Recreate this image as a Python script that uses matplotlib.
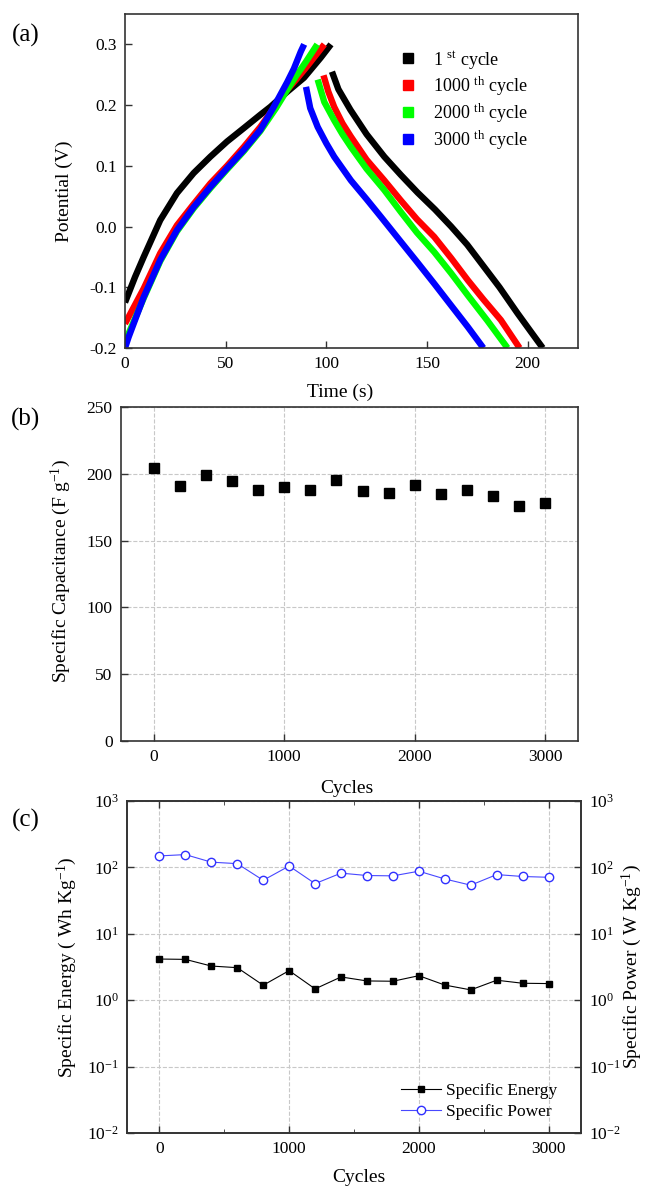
import numpy as np
import matplotlib
matplotlib.use('Agg')
import matplotlib.pyplot as plt
from matplotlib.lines import Line2D
from matplotlib.ticker import MultipleLocator, LogLocator, NullLocator, FixedLocator

plt.rcParams['font.family'] = ['Liberation Serif', 'DejaVu Serif']
plt.rcParams['mathtext.fontset'] = 'custom'
plt.rcParams['mathtext.rm'] = 'Liberation Serif'
plt.rcParams['mathtext.it'] = 'Liberation Serif:italic'
plt.rcParams['mathtext.bf'] = 'Liberation Serif:bold'
plt.rcParams['axes.unicode_minus'] = False

# ---- (a) galvanostatic charge / discharge curves ----
cycle_labels = [r'1 $^{\mathrm{st}}$ cycle', r'1000 $^{\mathrm{th}}$ cycle',
                r'2000 $^{\mathrm{th}}$ cycle', r'3000 $^{\mathrm{th}}$ cycle']
cycle_colors = ['#000000', '#ff0000', '#00ff00', '#0000ff']

t_chg_1 = [0, 5, 9.3, 17.5, 25.8, 34.1, 42.4, 50.7, 59, 67.2, 72.2, 80.6, 88.9, 97.2, 102.3]
v_chg_1 = [-0.125, -0.083, -0.05, 0.0105, 0.055, 0.088, 0.115, 0.14, 0.162, 0.184, 0.197, 0.222, 0.245, 0.278, 0.30]
t_dis_1 = [102.8, 106, 112, 120, 128.8, 137, 145.3, 154, 162, 170, 178, 186, 195, 202, 207.5]
v_dis_1 = [0.255, 0.226, 0.192, 0.152, 0.115, 0.085, 0.056, 0.028, 0.0, -0.030, -0.065, -0.100, -0.143, -0.175, -0.200]

t_chg_1000 = [0, 9.3, 17.5, 25.8, 34.1, 42.4, 50.7, 59, 67.2, 75, 80, 85, 90, 95, 99]
v_chg_1000 = [-0.16, -0.102, -0.044, 0.002, 0.037, 0.071, 0.10, 0.131, 0.164, 0.20, 0.223, 0.242, 0.262, 0.283, 0.30]
t_dis_1000 = [98.6, 101, 103.9, 108, 112.2, 120, 128.8, 137, 145, 153.6, 162, 170.2, 178, 186.7, 196]
v_dis_1000 = [0.249, 0.222, 0.197, 0.170, 0.148, 0.110, 0.076, 0.043, 0.012, -0.017, -0.052, -0.088, -0.120, -0.154, -0.200]

t_chg_2000 = [0, 9.3, 17.5, 25.8, 34.1, 42.4, 50.7, 59, 67.2, 75, 80, 85, 90, 95.5]
v_chg_2000 = [-0.19, -0.118, -0.057, -0.008, 0.03, 0.063, 0.094, 0.124, 0.157, 0.195, 0.222, 0.248, 0.272, 0.30]
t_dis_2000 = [95.7, 99, 103.9, 108, 112.2, 120, 128.8, 137, 145, 153.6, 162, 170.2, 180, 190]
v_dis_2000 = [0.242, 0.205, 0.175, 0.152, 0.131, 0.095, 0.060, 0.024, -0.010, -0.042, -0.077, -0.113, -0.155, -0.200]

t_chg_3000 = [0, 1.8, 9.3, 17.5, 25.8, 34.1, 42.4, 50.7, 59, 67.2, 73.9, 80.6, 83.9, 87.3, 89]
v_chg_3000 = [-0.2, -0.182, -0.116, -0.055, -0.006, 0.032, 0.065, 0.096, 0.126, 0.159, 0.197, 0.238, 0.26, 0.288, 0.30]
t_dis_3000 = [89.9, 92, 95.7, 100, 103.9, 112.2, 120, 127.1, 137, 145, 153.6, 162, 170.2, 178]
v_dis_3000 = [0.23, 0.195, 0.164, 0.137, 0.115, 0.076, 0.045, 0.016, -0.025, -0.058, -0.094, -0.130, -0.165, -0.200]

# ---- (b) specific capacitance vs cycles ----
cycles = [0, 200, 400, 600, 800, 1000, 1200, 1400, 1600, 1800, 2000, 2200, 2400, 2600, 2800, 3000]
capacitance = [204, 191, 199, 195, 188, 190.5, 188, 195.5, 187, 186, 191.5, 185, 188, 183.5, 176, 178.5]

# ---- (c) specific energy / power vs cycles ----
energy = [4.17, 4.12, 3.27, 3.09, 1.68, 2.79, 1.48, 2.24, 1.95, 1.93, 2.34, 1.69, 1.43, 2.0, 1.80, 1.78]
power = [149, 156, 120, 114, 64, 105, 57, 82, 75.5, 74.6, 87.7, 67, 54, 78, 73, 71]

SPINE = '#333333'
TICK_FS = 12.5
LABEL_FS = 14


def style_axes(ax):
    for s in ax.spines.values():
        s.set_color(SPINE)
        s.set_linewidth(1.2)
    ax.tick_params(direction='in', length=5, width=1, color=SPINE,
                   labelsize=TICK_FS, pad=6)


fig = plt.figure(figsize=(6.46, 11.86), dpi=100)

# (a)
ax1 = fig.add_axes([0.1935, 0.7066, 0.7012, 0.2816])
curves = [(t_chg_1, v_chg_1, t_dis_1, v_dis_1),
          (t_chg_1000, v_chg_1000, t_dis_1000, v_dis_1000),
          (t_chg_2000, v_chg_2000, t_dis_2000, v_dis_2000),
          (t_chg_3000, v_chg_3000, t_dis_3000, v_dis_3000)]
for (tc, vc, td, vd), c in zip(curves, cycle_colors):
    ax1.plot(tc, vc, color=c, lw=4.6, solid_capstyle='butt', solid_joinstyle='round')
    ax1.plot(td, vd, color=c, lw=4.6, solid_capstyle='butt', solid_joinstyle='round')
ax1.set_xlim(0, 225)
ax1.set_ylim(-0.2, 0.35)
ax1.xaxis.set_major_locator(MultipleLocator(50))
ax1.yaxis.set_major_locator(FixedLocator([-0.2, -0.1, 0.0, 0.1, 0.2, 0.3]))
ax1.set_yticklabels(['-0.2', '-0.1', '0.0', '0.1', '0.2', '0.3'])
style_axes(ax1)
ax1.set_xlabel('Time (s)', fontsize=LABEL_FS)
ax1.set_ylabel('Potential (V)', fontsize=LABEL_FS)
ax1.xaxis.set_label_coords(0.474, -0.108)
ax1.yaxis.set_label_coords(-0.115, 0.47)
handles = [Line2D([], [], marker='s', color=c, linestyle='none', markersize=6.5) for c in cycle_colors]
ax1.legend(handles, cycle_labels, loc='upper left', bbox_to_anchor=(0.605, 0.896),
           frameon=False, fontsize=13, handlelength=1.0, handletextpad=0.9,
           labelspacing=0.2, borderpad=0, borderaxespad=0)
fig.text(26 / 646, 1 - 35 / 1186, '(a)', fontsize=18, ha='center', va='center')

# (b)
ax2 = fig.add_axes([0.1873, 0.3752, 0.7074, 0.2816])
ax2.plot(cycles, capacitance, 's', color='black', markersize=7)
ax2.set_xlim(-250, 3250)
ax2.set_ylim(0, 250)
ax2.xaxis.set_major_locator(MultipleLocator(1000))
ax2.yaxis.set_major_locator(MultipleLocator(50))
ax2.grid(True, color='#c8c8c8', linestyle='--', linewidth=0.8)
ax2.set_axisbelow(True)
style_axes(ax2)
ax2.set_xlabel('Cycles', fontsize=LABEL_FS)
ax2.set_ylabel(r'Specific Capacitance (F g$^{\mathrm{-1}}$)', fontsize=LABEL_FS)
ax2.xaxis.set_label_coords(0.494, -0.117)
ax2.yaxis.set_label_coords(-0.105, 0.51)
fig.text(26 / 646, 1 - 419 / 1186, '(b)', fontsize=18, ha='center', va='center')

# (c)
ax3 = fig.add_axes([0.1966, 0.0447, 0.7028, 0.2799])
ax3.set_yscale('log')
ax3.plot(cycles, energy, '-s', color='black', markersize=5, lw=0.8,
         label='Specific Energy')
ax3.set_xlim(-250, 3250)
ax3.set_ylim(1e-2, 1e3)
ax3.xaxis.set_major_locator(MultipleLocator(1000))
ax3.xaxis.set_minor_locator(MultipleLocator(500))
ax3.yaxis.set_major_locator(LogLocator(base=10, numticks=10))
ax3.yaxis.set_minor_locator(NullLocator())
ax3.grid(True, which='major', color='#c8c8c8', linestyle='--', linewidth=0.8)
ax3.set_axisbelow(True)
style_axes(ax3)
ax3.tick_params(which='both', top=True, direction='in', color=SPINE)
ax3.tick_params(which='minor', length=3)
ax3.set_xlabel('Cycles', fontsize=LABEL_FS)
ax3.set_ylabel(r'Specific Energy ( Wh Kg$^{\mathrm{-1}}$)', fontsize=LABEL_FS)
ax3.xaxis.set_label_coords(0.51, -0.108)
ax3.yaxis.set_label_coords(-0.106, 0.5)

ax4 = ax3.twinx()
ax4.set_yscale('log')
ax4.plot(cycles, power, '-o', color='#4848ff', mfc='white', mec='#3030ff',
         markersize=6, lw=0.8, label='Specific Power')
ax4.set_ylim(1e-2, 1e3)
ax4.yaxis.set_major_locator(LogLocator(base=10, numticks=10))
ax4.yaxis.set_minor_locator(NullLocator())
style_axes(ax4)
ax4.set_ylabel(r'Specific Power ( W Kg$^{\mathrm{-1}}$)', fontsize=LABEL_FS)
ax4.yaxis.set_label_coords(1.086, 0.5)
h1, l1 = ax3.get_legend_handles_labels()
h2, l2 = ax4.get_legend_handles_labels()
ax4.legend(h1 + h2, l1 + l2, loc='upper left', bbox_to_anchor=(0.6035, 0.152),
           frameon=False, fontsize=12.5, handlelength=2.3, handletextpad=0.3,
           labelspacing=0.3, borderpad=0, borderaxespad=0)
fig.text(26 / 646, 1 - 820 / 1186, '(c)', fontsize=18, ha='center', va='center')

fig.savefig('out.png', dpi=100)
